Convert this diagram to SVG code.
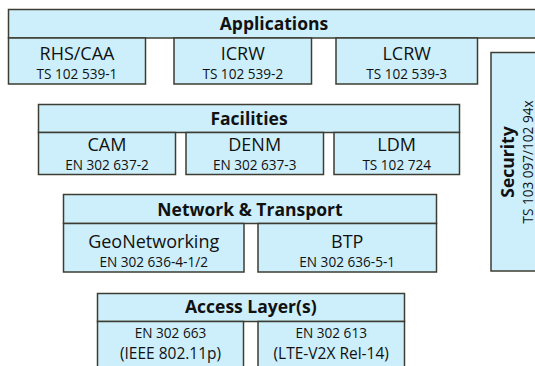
<svg xmlns="http://www.w3.org/2000/svg" width="535" height="366" viewBox="0 0 535 366">
<style>
rect{fill:#cdeffb;stroke:#3d3d33;stroke-width:1.5}
text{font-family:"Open Sans","Noto Sans",sans-serif;fill:#111;text-anchor:middle}
.h{font-weight:bold;font-size:17.5px}
.n{font-size:18px}
.s{font-size:13.6px}
.m{font-size:15.5px}
</style>
<rect width="535" height="366" style="fill:#fff;stroke:none"/>
<g id="applications">
<rect x="8.5" y="9.5" width="532" height="28.5"/>
<text class="h" x="274" y="30">Applications</text>
</g>
<g id="rhs-caa">
<rect x="8.5" y="38" width="137" height="46"/>
<text class="n" x="77" y="60">RHS/CAA</text>
<text class="s" x="77" y="79">TS 102 539-1</text>
</g>
<g id="icrw">
<rect x="174" y="38" width="137.5" height="46"/>
<text class="n" x="242.8" y="60">ICRW</text>
<text class="s" x="242.8" y="79">TS 102 539-2</text>
</g>
<g id="lcrw">
<rect x="336" y="38" width="141.5" height="46"/>
<text class="n" x="406.7" y="60">LCRW</text>
<text class="s" x="406.7" y="79">TS 102 539-3</text>
</g>
<g id="security">
<rect x="491" y="52.5" width="55" height="218.5"/>
<text class="h" transform="translate(514 162) rotate(-90)">Security</text>
<text class="s" transform="translate(532.5 162) rotate(-90)">TS 103 097/102 94x</text>
</g>
<g id="facilities">
<rect x="38.5" y="104.5" width="421" height="28"/>
<text class="h" x="249" y="124.5">Facilities</text>
</g>
<g id="cam">
<rect x="38.5" y="132.5" width="137" height="42"/>
<text class="n" x="107" y="151">CAM</text>
<text class="s" x="107" y="170">EN 302 637-2</text>
</g>
<g id="denm">
<rect x="186" y="132.5" width="137.5" height="42"/>
<text class="n" x="254.7" y="151">DENM</text>
<text class="s" x="254.7" y="170">EN 302 637-3</text>
</g>
<g id="ldm">
<rect x="334" y="132.5" width="125.5" height="42"/>
<text class="n" x="396.7" y="151">LDM</text>
<text class="s" x="396.7" y="170">TS 102 724</text>
</g>
<g id="network-transport">
<rect x="63.5" y="194.5" width="373" height="29"/>
<text class="h" x="250" y="215.7">Network &amp; Transport</text>
</g>
<g id="geonetworking">
<rect x="63.5" y="223.5" width="180.5" height="48.5"/>
<text class="n" x="153.7" y="248.3">GeoNetworking</text>
<text class="s" x="153.7" y="266.7">EN 302 636-4-1/2</text>
</g>
<g id="btp">
<rect x="258" y="223.5" width="178.5" height="48.5"/>
<text class="n" x="347.2" y="248.3">BTP</text>
<text class="s" x="347.2" y="266.7">EN 302 636-5-1</text>
</g>
<g id="access-layers">
<rect x="97.5" y="293.5" width="307" height="28"/>
<text class="h" x="250.8" y="313.3">Access Layer(s)</text>
</g>
<g id="access-802-11p">
<rect x="97.5" y="321.5" width="146" height="50"/>
<text class="s" x="170.5" y="338">EN 302 663</text>
<text class="m" x="170.5" y="358.5">(IEEE 802.11p)</text>
</g>
<g id="access-lte-v2x">
<rect x="258" y="321.5" width="146.5" height="50"/>
<text class="s" x="331.2" y="338">EN 302 613</text>
<text class="m" x="331.2" y="358.5">(LTE-V2X Rel-14)</text>
</g>
<g id="connectors"></g>
</svg>
